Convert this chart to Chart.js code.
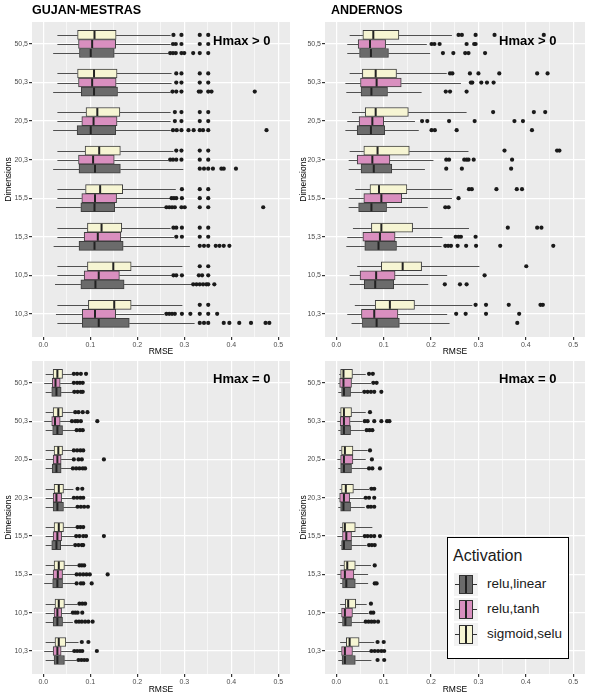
<!DOCTYPE html>
<html>
<head>
<meta charset="utf-8">
<script src="https://cdn.jsdelivr.net/npm/chart.js@4.4.1/dist/chart.umd.min.js"></script>
<style>
  body { margin: 0; background: #fff; font-family: "Liberation Sans", Arial, sans-serif; }
  #wrap { position: relative; width: 591px; height: 699px; overflow: hidden; }
  canvas { position: absolute; }
  .site { position: absolute; top: 4px; font-weight: bold; font-size: 12.5px; line-height: 1; color: #000; }
  .hmax { position: absolute; font-weight: bold; font-size: 13px; line-height: 1; color: #000; }
  #legend { position: absolute; left: 447px; top: 537px; width: 122px; height: 122px; box-sizing: border-box;
            border: 1.5px solid #000; background: #fff; }
  #legend .ttl { position: absolute; left: 5px; top: 9px; font-size: 16px; line-height: 18px; color: #1a1a1a; }
  #legend .key { position: absolute; left: 6px; width: 24px; height: 23px; background: #f2f2f2; }
  #legend .wh { position: absolute; left: 1px; right: 1px; top: 11px; height: 1px; background: #333; }
  #legend .bx { position: absolute; left: 5px; width: 14px; top: 2px; height: 19px; box-sizing: border-box; border: 1px solid #333; }
  #legend .md { position: absolute; left: 5px; width: 2px; top: 0; bottom: 0; background: #222; }
  #legend .lab { position: absolute; left: 39px; font-size: 13.5px; line-height: 16px; color: #1a1a1a; }
</style>
</head>
<body>
<div id="wrap">
  <canvas id="gmPos" width="295" height="360" style="left:0;top:0"></canvas>
  <canvas id="anPos" width="296" height="360" style="left:295px;top:0"></canvas>
  <canvas id="gmZero" width="295" height="360" style="left:0;top:339px"></canvas>
  <canvas id="anZero" width="296" height="360" style="left:295px;top:339px"></canvas>
  <div class="site" style="left:32px">GUJAN-MESTRAS</div>
  <div class="site" style="left:331px">ANDERNOS</div>
  <div class="hmax" style="left:213px;top:34px">Hmax &gt; 0</div>
  <div class="hmax" style="left:499px;top:34px">Hmax &gt; 0</div>
  <div class="hmax" style="left:213px;top:372px">Hmax = 0</div>
  <div class="hmax" style="left:499px;top:372px">Hmax = 0</div>
  <div id="legend"><div class="ttl">Activation</div></div>
</div>
<script>
// categories (top to bottom) and activation groups
const dims = ["50,5", "50,3", "20,5", "20,3", "15,5", "15,3", "10,5", "10,3"];
const activations = ["relu,linear", "relu,tanh", "sigmoid,selu"];
const xTicks = [0, 0.1, 0.2, 0.3, 0.4, 0.5];
const xMinorTicks = [0.05, 0.15, 0.25, 0.35, 0.45];

// box stats per dimension: [lower whisker, q1, median, q3, upper whisker]
// GUJAN-MESTRAS, Hmax > 0
const gmPosLinear = [[0.021,0.077,0.101,0.151,0.266],[0.021,0.081,0.108,0.158,0.271],[0.021,0.072,0.101,0.154,0.271],[0.021,0.076,0.110,0.164,0.298],
                     [0.027,0.080,0.109,0.152,0.259],[0.022,0.076,0.109,0.170,0.312],[0.025,0.080,0.111,0.172,0.316],[0.030,0.083,0.118,0.183,0.322]];
const gmPosTanh   = [[0.030,0.075,0.104,0.154,0.271],[0.030,0.075,0.104,0.155,0.273],[0.030,0.082,0.107,0.157,0.271],[0.030,0.075,0.106,0.151,0.266],
                     [0.030,0.082,0.110,0.156,0.270],[0.030,0.087,0.116,0.165,0.278],[0.030,0.087,0.118,0.162,0.273],[0.027,0.083,0.110,0.154,0.257]];
const gmPosSelu   = [[0.030,0.073,0.109,0.155,0.271],[0.030,0.073,0.108,0.157,0.273],[0.030,0.091,0.115,0.163,0.271],[0.030,0.089,0.119,0.164,0.277],
                     [0.030,0.090,0.121,0.169,0.282],[0.030,0.094,0.124,0.167,0.271],[0.030,0.094,0.149,0.187,0.296],[0.030,0.096,0.151,0.187,0.296]];
const gmPosLinearOut = [[0.270,0.276,0.282,0.294,0.300,0.319,0.333,0.351],[0.275,0.283,0.294,0.331,0.335,0.351,0.358,0.450],
                        [0.276,0.284,0.294,0.309,0.320,0.333,0.340,0.351,0.475],[0.333,0.342,0.351,0.361,0.379,0.384,0.410],
                        [0.262,0.268,0.274,0.280,0.294,0.301,0.333,0.351,0.468],[0.333,0.342,0.351,0.367,0.375,0.384,0.396],
                        [0.319,0.326,0.333,0.340,0.347,0.351,0.364],[0.333,0.342,0.351,0.384,0.396,0.417,0.442,0.473,0.481]];
const gmPosTanhOut = [[0.276,0.282,0.294,0.333,0.351],[0.283,0.294,0.333,0.351],[0.280,0.294,0.333,0.351],[0.270,0.276,0.283,0.294,0.333,0.351],
                      [0.273,0.278,0.283,0.295,0.333,0.351],[0.283,0.295,0.333,0.351],[0.277,0.283,0.295,0.331,0.338,0.351],
                      [0.262,0.268,0.274,0.280,0.295,0.313,0.333,0.351,0.370]];
const gmPosSeluOut = [[0.277,0.294,0.333,0.351],[0.283,0.294,0.333,0.351],[0.280,0.294,0.333,0.351],[0.283,0.294,0.333,0.351],
                      [0.295,0.333,0.351],[0.277,0.283,0.295,0.333,0.351],[0.333,0.351],[0.333,0.351]];

// ANDERNOS, Hmax > 0
const anPosLinear = [[0.023,0.049,0.073,0.110,0.198],[0.021,0.052,0.074,0.108,0.180],[0.019,0.044,0.073,0.102,0.174],[0.026,0.052,0.079,0.117,0.187],
                     [0.026,0.047,0.074,0.106,0.193],[0.021,0.060,0.089,0.127,0.222],[0.028,0.059,0.082,0.121,0.194],[0.032,0.055,0.085,0.133,0.239]];
const anPosTanh   = [[0.023,0.046,0.071,0.104,0.191],[0.019,0.051,0.085,0.137,0.263],[0.023,0.048,0.076,0.100,0.166],[0.026,0.044,0.076,0.113,0.205],
                     [0.026,0.058,0.095,0.138,0.244],[0.023,0.056,0.092,0.124,0.224],[0.028,0.050,0.084,0.124,0.234],[0.023,0.053,0.080,0.130,0.234]];
const anPosSelu   = [[0.028,0.056,0.078,0.132,0.244],[0.028,0.055,0.083,0.127,0.233],[0.033,0.061,0.083,0.152,0.275],[0.028,0.058,0.087,0.154,0.279],
                     [0.040,0.071,0.090,0.149,0.245],[0.035,0.074,0.095,0.161,0.280],[0.044,0.095,0.140,0.180,0.302],[0.039,0.082,0.113,0.165,0.287]];
const anPosLinearOut = [[0.225,0.247,0.272,0.279,0.314],[0.231,0.240,0.275],[0.201,0.208,0.254,0.413],[0.232,0.265,0.369],
                        [0.230,0.237],[0.230,0.236,0.242,0.256,0.274,0.295,0.346,0.458],[0.229,0.261,0.275],[0.382]];
const anPosTanhOut = [[0.201,0.207,0.218,0.275,0.291,0.294],[0.284,0.287,0.306,0.318,0.332],[0.181,0.192,0.238,0.292,0.376,0.394],
                      [0.232,0.238,0.270,0.275,0.279,0.290,0.371],[0.258],[0.252,0.258,0.263,0.294],[0.313],[0.253,0.273,0.316,0.386]];
const anPosSeluOut = [[0.258,0.265,0.294,0.334,0.438],[0.240,0.245,0.282,0.300,0.344,0.424,0.446],[0.331,0.417,0.441],[0.355,0.466,0.471],
                      [0.280,0.286,0.338,0.381,0.392],[0.362,0.424,0.433],[0.401],[0.294,0.316,0.364,0.431,0.436]];

// GUJAN-MESTRAS, Hmax = 0
const gmZeroLinear = [[0.005,0.018,0.028,0.038,0.063],[0.005,0.020,0.030,0.041,0.068],[0.005,0.019,0.028,0.038,0.061],[0.005,0.021,0.030,0.043,0.070],
                      [0.005,0.018,0.028,0.037,0.064],[0.002,0.020,0.030,0.041,0.068],[0.005,0.021,0.030,0.041,0.063],[0.005,0.023,0.030,0.045,0.071]];
const gmZeroTanh   = [[0.002,0.019,0.026,0.036,0.061],[0.002,0.018,0.025,0.036,0.057],[0.005,0.021,0.030,0.038,0.061],[0.005,0.021,0.028,0.039,0.061],
                      [0.005,0.021,0.030,0.039,0.068],[0.005,0.021,0.031,0.041,0.068],[0.005,0.023,0.030,0.039,0.059],[0.002,0.021,0.030,0.038,0.064]];
const gmZeroSelu   = [[0.005,0.021,0.030,0.041,0.061],[0.005,0.021,0.032,0.041,0.063],[0.005,0.023,0.032,0.041,0.063],[0.005,0.023,0.033,0.043,0.064],
                      [0.005,0.023,0.033,0.043,0.070],[0.005,0.023,0.033,0.045,0.073],[0.005,0.025,0.033,0.045,0.073],[0.005,0.025,0.033,0.048,0.075]];
const gmZeroLinearOut = [[0.066,0.073,0.080,0.084],[0.071,0.078,0.084],[0.063,0.070,0.077,0.084,0.089],[0.073,0.080,0.087,0.095],
                         [0.068,0.075,0.082,0.085],[0.071,0.080,0.085,0.103],[0.070,0.076,0.082,0.089,0.096,0.105],[0.075,0.081,0.087,0.093]];
const gmZeroTanhOut = [[0.065,0.072,0.078,0.084],[0.061,0.068,0.073,0.080,0.115],[0.065,0.075,0.082,0.129],[0.065,0.072,0.079,0.085],
                       [0.070,0.077,0.085,0.091,0.129],[0.071,0.078,0.085,0.092,0.099,0.137],[0.063,0.068,0.073,0.083],[0.066,0.072,0.078,0.083,0.114]];
const gmZeroSeluOut = [[0.065,0.072,0.080,0.091],[0.068,0.075,0.084,0.094],[0.065,0.072,0.079,0.085],[0.073,0.083],
                       [0.073,0.079,0.085],[0.077,0.082,0.087],[0.077,0.083,0.089],[0.082,0.096]];

// ANDERNOS, Hmax = 0
const anZeroLinear = [[0.004,0.011,0.016,0.030,0.055],[0.004,0.009,0.016,0.030,0.059],[0.004,0.009,0.016,0.032,0.066],[0.004,0.009,0.015,0.030,0.060],
                      [0.008,0.011,0.016,0.032,0.064],[0.008,0.013,0.021,0.040,0.067],[0.004,0.013,0.019,0.032,0.060],[0.004,0.012,0.018,0.040,0.074]];
const anZeroTanh   = [[0.004,0.007,0.015,0.032,0.073],[0.002,0.008,0.016,0.029,0.055],[0.002,0.009,0.016,0.035,0.062],[0.004,0.007,0.016,0.028,0.059],
                      [0.002,0.013,0.021,0.032,0.056],[0.002,0.009,0.018,0.037,0.067],[0.004,0.011,0.018,0.034,0.068],[0.004,0.011,0.018,0.034,0.071]];
const anZeroSelu   = [[0.006,0.009,0.015,0.034,0.062],[0.006,0.009,0.016,0.032,0.062],[0.006,0.011,0.018,0.035,0.066],[0.007,0.011,0.020,0.036,0.069],
                      [0.008,0.013,0.018,0.040,0.076],[0.008,0.016,0.023,0.040,0.073],[0.008,0.019,0.025,0.041,0.064],[0.008,0.021,0.028,0.048,0.080]];
const anZeroLinearOut = [[0.059,0.066,0.073,0.080,0.095],[0.064,0.070,0.076],[0.069,0.076,0.092],[0.067,0.073,0.080],
                         [0.069,0.075,0.081],[0.081,0.085],[0.062,0.068,0.074,0.080,0.088],[0.087,0.101]];
const anZeroTanhOut = [[0.078,0.085],[0.060,0.066,0.080,0.095,0.107,0.112],[0.075],[0.062,0.069,0.080],
                       [0.060,0.066,0.073,0.080,0.092],[],[0.073,0.078],[0.074,0.081,0.088,0.095,0.101]];
const anZeroSeluOut = [[0.069,0.077],[0.071],[0.071],[0.074,0.080],[],[0.081],[0.073],[0.087,0.100]];

// look
const fills = { "relu,linear": "#6b6b6b", "relu,tanh": "#d98fbf", "sigmoid,selu": "#f6f5d3" };
const dodge = { "relu,linear": 0.235, "relu,tanh": 0, "sigmoid,selu": -0.235 };

Chart.defaults.font.family = '"Liberation Sans", Arial, sans-serif';

const isMajor = v => xTicks.some(t => Math.abs(t - v) < 1e-6);

// panel background, whiskers (behind boxes) and medians (on top)
const boxParts = {
  id: 'boxParts',
  beforeDraw(chart) {
    const { ctx, chartArea: a } = chart;
    ctx.save();
    ctx.fillStyle = '#ebebeb';
    ctx.fillRect(a.left, a.top, a.right - a.left, a.bottom - a.top);
    ctx.restore();
  },
  beforeDatasetsDraw(chart) {
    const { ctx } = chart;
    const xs = chart.scales.x;
    ctx.save();
    ctx.strokeStyle = '#505050';
    ctx.lineWidth = 1;
    chart.data.datasets.forEach((ds, di) => {
      if (!ds.stats) return;
      chart.getDatasetMeta(di).data.forEach((el, i) => {
        const s = ds.stats[i];
        const y = Math.round(el.y) + 0.5;
        ctx.beginPath();
        ctx.moveTo(xs.getPixelForValue(s[0]), y);
        ctx.lineTo(xs.getPixelForValue(s[1]), y);
        ctx.moveTo(xs.getPixelForValue(s[3]), y);
        ctx.lineTo(xs.getPixelForValue(s[4]), y);
        ctx.stroke();
      });
    });
    ctx.restore();
  },
  afterDatasetsDraw(chart) {
    const { ctx } = chart;
    const xs = chart.scales.x;
    ctx.save();
    ctx.strokeStyle = '#222';
    ctx.lineWidth = 2;
    chart.data.datasets.forEach((ds, di) => {
      if (!ds.stats) return;
      chart.getDatasetMeta(di).data.forEach((el, i) => {
        const x = xs.getPixelForValue(ds.stats[i][2]);
        const h = el.height / 2 - 0.5;
        ctx.beginPath();
        ctx.moveTo(x, el.y - h);
        ctx.lineTo(x, el.y + h);
        ctx.stroke();
      });
    });
    ctx.restore();
  }
};

function makePanel(id, stats, outs, pad, yWidth, xHeight, titleBottom) {
  const datasets = [];
  activations.forEach((a, k) => {
    datasets.push({
      type: 'bar',
      label: a,
      data: stats[k].map((s, i) => ({ y: i + 1 + dodge[a], x: [s[1], s[3]] })),
      stats: stats[k],
      backgroundColor: fills[a],
      borderColor: '#3d3d3d',
      borderWidth: 1,
      borderSkipped: false,
      barThickness: 9,
      grouped: false
    });
    datasets.push({
      type: 'scatter',
      label: a + ' outliers',
      data: outs[k].flatMap((vals, i) => vals.map(v => ({ x: v, y: i + 1 + dodge[a] }))),
      pointRadius: 2.1,
      pointBackgroundColor: '#1a1a1a',
      pointBorderWidth: 0
    });
  });

  return new Chart(document.getElementById(id), {
    type: 'bar',
    data: { datasets },
    plugins: [boxParts],
    options: {
      indexAxis: 'y',
      responsive: false,
      animation: false,
      events: [],
      layout: { padding: pad },
      plugins: { legend: { display: false }, tooltip: { enabled: false } },
      scales: {
        x: {
          type: 'linear',
          min: -0.024,
          max: 0.525,
          offset: false,
          afterBuildTicks: s => { s.ticks = [...xTicks, ...xMinorTicks].sort((a, b) => a - b).map(v => ({ value: v })); },
          afterFit: s => { s.height = xHeight; },
          border: { display: false },
          grid: {
            offset: false,
            color: '#ffffff',
            lineWidth: c => isMajor(c.tick.value) ? 1.2 : 0.6,
            tickColor: c => isMajor(c.tick.value) ? '#333' : 'rgba(0,0,0,0)',
            tickLength: 3
          },
          ticks: {
            autoSkip: false,
            maxRotation: 0,
            padding: 1,
            color: '#4d4d4d',
            font: { size: 7 },
            callback: v => isMajor(v) ? v.toFixed(1) : ''
          },
          title: { display: true, text: 'RMSE', color: '#000', font: { size: 8.5 }, padding: { top: 0, bottom: titleBottom } }
        },
        y: {
          type: 'linear',
          min: 0.43,
          max: 8.6,
          reverse: true,
          offset: false,
          afterBuildTicks: s => { s.ticks = dims.map((d, i) => ({ value: i + 1 })); },
          afterFit: s => { s.width = yWidth; },
          border: { display: false },
          grid: { offset: false, color: '#ffffff', lineWidth: 1.2, tickColor: '#333', tickLength: 3 },
          ticks: { autoSkip: false, padding: 1, color: '#4d4d4d', font: { size: 7 }, callback: v => dims[v - 1] },
          title: { display: true, text: 'Dimensions', color: '#000', font: { size: 8.5 }, padding: { top: 3.5, bottom: 0 } }
        }
      }
    }
  });
}

makePanel('gmPos', [gmPosLinear, gmPosTanh, gmPosSelu], [gmPosLinearOut, gmPosTanhOut, gmPosSeluOut],
          { top: 22, right: 5, left: 0, bottom: 0 }, 32, 23, 3);
makePanel('anPos', [anPosLinear, anPosTanh, anPosSelu], [anPosLinearOut, anPosTanhOut, anPosSeluOut],
          { top: 22, right: 6, left: 0, bottom: 0 }, 30, 23, 3);
makePanel('gmZero', [gmZeroLinear, gmZeroTanh, gmZeroSelu], [gmZeroLinearOut, gmZeroTanhOut, gmZeroSeluOut],
          { top: 22, right: 5, left: 0, bottom: 0 }, 32, 25, 4);
makePanel('anZero', [anZeroLinear, anZeroTanh, anZeroSelu], [anZeroLinearOut, anZeroTanhOut, anZeroSeluOut],
          { top: 22, right: 6, left: 0, bottom: 0 }, 30, 25, 4);

// legend keys
const legend = document.getElementById('legend');
activations.forEach((a, k) => {
  const top = 35 + k * 25;
  legend.insertAdjacentHTML('beforeend',
    `<div class="key" style="top:${top}px"><div class="wh"></div>` +
    `<div class="bx" style="background:${fills[a]}"><div class="md"></div></div></div>` +
    `<div class="lab" style="top:${top + 3}px">${a}</div>`);
});
</script>
</body>
</html>
